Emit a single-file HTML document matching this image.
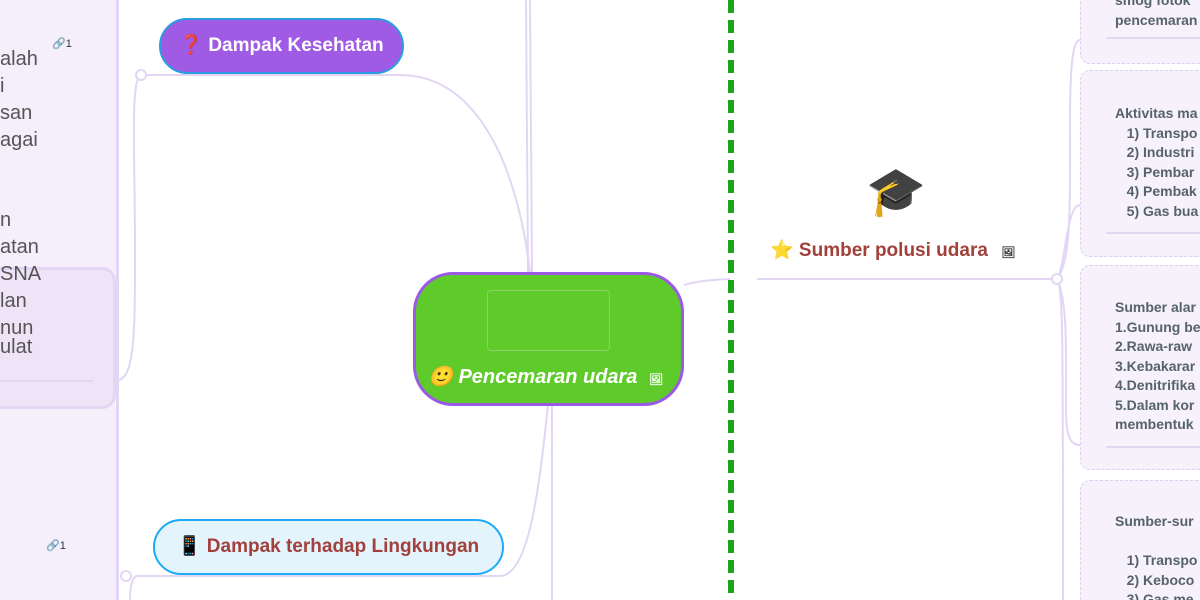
<!DOCTYPE html>
<html><head><meta charset="utf-8"><style>
html,body{margin:0;width:1200px;height:600px;overflow:hidden}
body{background:#fff;font-family:"Liberation Sans","Noto Sans CJK SC",sans-serif;position:relative}
.a{position:absolute}
.lt{position:absolute;left:0;font-size:20px;color:#555;line-height:20px}
.rb{position:absolute;left:1080px;width:140px;background:#f6f1fb;border:1.5px dashed #ddd0ee;border-radius:10px}
.rt{position:absolute;left:1115px;font-size:14px;font-weight:bold;color:#56626c;line-height:19.5px;white-space:pre}
.sep{position:absolute;left:1106px;width:94px;height:2px;background:#e2d6f1}
</style></head><body>
<div class="a" style="left:0;top:0;width:116px;height:600px;background:#f5eefb;border-right:3px solid #e3d5f4"></div>
<div class="a" style="left:-20px;top:267px;width:130px;height:136px;background:#eee3f7;border:3px solid #e3d5f4;border-radius:14px"></div>
<div class="a" style="left:0;top:380px;width:93px;height:2px;background:#e2d6f1"></div>
<div class="lt" style="top:49px">alah</div>
<div class="lt" style="top:76px">i</div>
<div class="lt" style="top:103px">san</div>
<div class="lt" style="top:130px">agai</div>
<div class="lt" style="top:210px">n</div>
<div class="lt" style="top:237px">atan</div>
<div class="lt" style="top:264px">SNA</div>
<div class="lt" style="top:291px">lan</div>
<div class="lt" style="top:318px">nun</div>
<div class="lt" style="top:337px">ulat</div>
<div class="a" style="left:52px;top:37px;font-size:11px;color:#333">🔗1</div>
<div class="a" style="left:46px;top:539px;font-size:11px;color:#333">🔗1</div>

<svg class="a" style="left:0;top:0" width="1200" height="600">
<g fill="none" stroke="#e2d6f4" stroke-width="2">
<path d="M141 75 H400 C470 75 515 150 530 272"/>
<path d="M141 75 C130 80 135 150 135 250 C135 330 135 380 117 380"/>
<path d="M530 0 L532 272"/>
<path d="M526 0 L528 272"/>
<path d="M136 576 H500 C530 576 540 480 548 405"/>
<path d="M552 405 V600"/>
<path d="M136 576 Q130 580 130 600"/>
<path d="M684 285 Q700 280 730 279"/>
<path d="M757 279 H1057"/>
<path d="M1057 279 C1072 260 1070 200 1070 120 C1070 50 1075 40 1080 40"/>
<path d="M1057 279 C1066 265 1066 205 1080 205"/>
<path d="M1057 279 C1068 300 1066 360 1066 410 C1066 440 1072 445 1080 445"/>
<path d="M1057 279 C1063 290 1063 330 1063 600"/>
</g>
<circle cx="141" cy="75" r="5" fill="#fff" stroke="#e2d6f4" stroke-width="2"/>
<circle cx="126" cy="576" r="5" fill="#fff" stroke="#e2d6f4" stroke-width="2"/>
<circle cx="1057" cy="279" r="5" fill="#fff" stroke="#e2d6f4" stroke-width="2"/>
<line x1="731" y1="0" x2="731" y2="600" stroke="#1aa51a" stroke-width="6" stroke-dasharray="13 7"/>
</svg>

<div class="a" style="left:159px;top:18px;width:241px;height:52px;background:#9f5be3;border:2px solid #2a9de2;border-radius:28px;color:#fff;font-weight:bold;font-size:19px;line-height:52px;text-align:center"><span style="color:#d01818">❓</span> Dampak Kesehatan</div>

<div class="a" style="left:413px;top:272px;width:265px;height:128px;background:#5fcb2b;border:3px solid #9b59e6;border-radius:40px"></div>
<div class="a" style="left:487px;top:290px;width:121px;height:59px;border:1px solid #8ccf6a;border-radius:4px"></div>
<div class="a" style="left:428px;top:364px;font-size:20px;font-weight:bold;font-style:italic;color:#fff;white-space:nowrap">🙂 Pencemaran udara <span style="font-size:11px;font-style:normal;margin-left:6px">🖼</span></div>

<div class="a" style="left:153px;top:519px;width:347px;height:52px;background:#e3f4fd;border:2px solid #1eaaf5;border-radius:28px;color:#a2403c;font-weight:bold;font-size:19px;line-height:52px;text-align:center">📱 Dampak terhadap Lingkungan</div>

<div class="a" style="left:866px;top:165px;font-size:48px;line-height:56px">🎓</div>
<div class="a" style="left:770px;top:238px;font-size:19px;font-weight:bold;color:#a2403c;white-space:nowrap">⭐ Sumber polusi udara <span style="font-size:11px;color:#333;margin-left:8px">🖼</span></div>

<div class="rb" style="top:-20px;height:82px"></div>
<div class="rt" style="top:-9px">smog fotok
pencemaran</div>
<div class="sep" style="top:37px"></div>
<div class="rb" style="top:70px;height:185px"></div>
<div class="rt" style="top:104px">Aktivitas ma
   1) Transpo
   2) Industri
   3) Pembar
   4) Pembak
   5) Gas bua</div>
<div class="sep" style="top:232px"></div>
<div class="rb" style="top:265px;height:203px"></div>
<div class="rt" style="top:298px">Sumber alar
1.Gunung be
2.Rawa-raw
3.Kebakarar
4.Denitrifika
5.Dalam kor
membentuk</div>
<div class="sep" style="top:446px"></div>
<div class="rb" style="top:480px;height:140px"></div>
<div class="rt" style="top:512px">Sumber-sur

   1) Transpo
   2) Keboco
   3) Gas me</div>
</body></html>
